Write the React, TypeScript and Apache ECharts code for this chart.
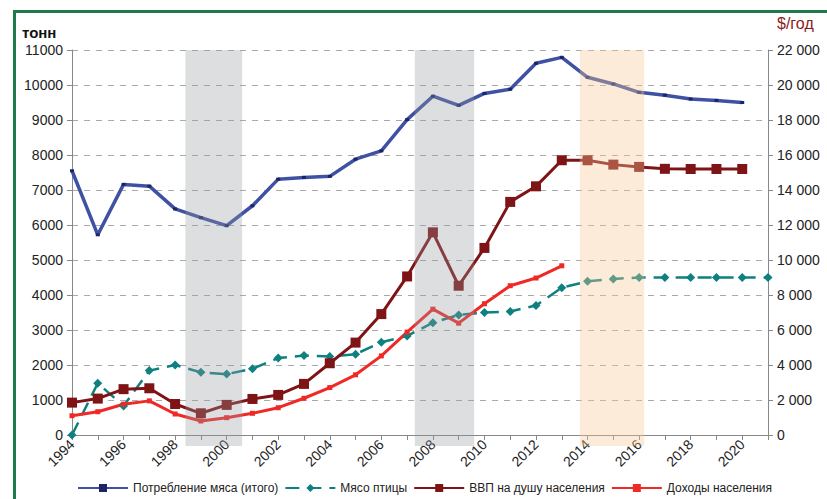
import React, { useEffect, useRef } from 'react';
import * as echarts from 'echarts';

const years = [1994, 1995, 1996, 1997, 1998, 1999, 2000, 2001, 2002, 2003, 2004, 2005, 2006, 2007, 2008, 2009, 2010, 2011, 2012, 2013, 2014, 2015, 2016, 2017, 2018, 2019, 2020, 2021];
const meatTotal = [7550, 5720, 7160, 7110, 6460, 6210, 5980, 6550, 7310, 7360, 7390, 7880, 8120, 9010, 9680, 9420, 9760, 9880, 10620, 10790, 10220, 10030, 9790, 9710, 9600, 9560, 9500, null];
const poultry = [0, 1480, 830, 1840, 2000, 1790, 1740, 1890, 2200, 2270, 2240, 2310, 2650, 2830, 3210, 3430, 3500, 3530, 3700, 4210, 4390, 4460, 4500, 4500, 4500, 4500, 4500, 4500];
const gdpPerCapita = [1850, 2080, 2620, 2670, 1770, 1240, 1720, 2060, 2290, 2920, 4100, 5280, 6910, 9060, 11580, 8530, 10690, 13320, 14210, 15700, 15700, 15450, 15320, 15210, 15200, 15200, 15200, null];
const income = [1100, 1330, 1760, 1950, 1200, 800, 990, 1240, 1560, 2100, 2710, 3440, 4520, 5880, 7190, 6390, 7500, 8530, 8970, 9670, null, null, null, null, null, null, null, null];
const bandStart = [1998.4, 2007.3, 2013.7];
const bandEnd = [2000.6, 2009.6, 2016.2];
const bandColors = ['rgba(150,152,160,0.32)', 'rgba(150,152,160,0.32)', 'rgba(248,200,150,0.36)'];
const seriesNames = ['Потребление мяса (итого)', 'Мясо птицы', 'ВВП на душу населения', 'Доходы населения'];

const FONT = '"Liberation Sans", Arial, sans-serif';

const pair = (arr: (number | null)[]) => years.map((y, i) => [y, arr[i]]);

export default function App() {
  const ref = useRef<HTMLDivElement>(null);
  useEffect(() => {
    if (!ref.current) return;
    const chart = echarts.init(ref.current, null, { renderer: 'svg' });
    const fmtSpace = (v: number) =>
      v >= 1000 ? Math.floor(v / 1000) + ' ' + String(v % 1000).padStart(3, '0') : String(v);
    chart.setOption({
      animation: false,
      backgroundColor: '#fff',
      textStyle: { fontFamily: FONT },
      grid: { left: 72, right: 59, top: 50, bottom: 64, containLabel: false },
      graphic: [
        {
          type: 'rect',
          silent: true,
          shape: { x: 14.5, y: 11.5, width: 900, height: 600 },
          style: { fill: 'none', stroke: '#1d7b4b', lineWidth: 3 },
        },
        {
          type: 'text',
          left: 22,
          top: 25,
          style: { text: 'тонн', font: 'bold 15px ' + FONT, fill: '#111' },
        },
        {
          type: 'text',
          left: 777,
          top: 15,
          style: { text: '$/год', font: '16px ' + FONT, fill: '#8b1c1c' },
        },
      ],
      legend: {
        data: seriesNames,
        bottom: 0,
        left: 72,
        itemWidth: 50,
        itemHeight: 10,
        itemGap: 6,
        textStyle: { fontSize: 12, color: '#222', fontFamily: FONT },
      },
      xAxis: {
        type: 'value',
        min: 1994,
        max: 2021,
        interval: 1,
        axisLine: { show: true, lineStyle: { color: '#888' } },
        axisTick: { show: true, length: 5, lineStyle: { color: '#888' } },
        splitLine: { show: false },
        axisLabel: {
          rotate: 45,
          fontSize: 14,
          color: '#222',
          margin: 7,
          formatter: (v: number) => (v % 2 === 0 && v <= 2020 ? String(v) : ''),
        },
      },
      yAxis: [
        {
          type: 'value',
          min: 0,
          max: 11000,
          interval: 1000,
          axisLine: { show: true, lineStyle: { color: '#888' } },
          axisTick: { show: true, length: 5, lineStyle: { color: '#888' } },
          splitLine: { show: true, lineStyle: { color: '#aaa', type: [6, 6], width: 1 } },
          axisLabel: { fontSize: 14, color: '#222', margin: 9, formatter: (v: number) => String(v) },
        },
        {
          type: 'value',
          min: 0,
          max: 22000,
          interval: 2000,
          position: 'right',
          axisLine: { show: true, lineStyle: { color: '#888' } },
          axisTick: { show: true, length: 5, lineStyle: { color: '#888' } },
          splitLine: { show: false },
          axisLabel: { fontSize: 14, color: '#222', margin: 9, formatter: fmtSpace },
        },
      ],
      series: [
        {
          name: seriesNames[0],
          type: 'line',
          yAxisIndex: 0,
          data: pair(meatTotal),
          symbol: 'rect',
          symbolSize: [4, 3],
          itemStyle: { color: '#1c2466' },
          lineStyle: { color: '#3f51a3', width: 3.5 },
          color: '#3f51a3',
        },
        {
          name: seriesNames[1],
          type: 'line',
          yAxisIndex: 0,
          data: pair(poultry),
          symbol: 'diamond',
          symbolSize: 9,
          itemStyle: { color: '#0f8080' },
          lineStyle: { color: '#0f8080', width: 2.5, type: [14, 8] },
          color: '#0f8080',
        },
        {
          name: seriesNames[2],
          type: 'line',
          yAxisIndex: 1,
          data: pair(gdpPerCapita),
          symbol: 'rect',
          symbolSize: 10,
          itemStyle: { color: '#7f1416' },
          lineStyle: { color: '#7f1416', width: 3 },
          color: '#7f1416',
        },
        {
          name: seriesNames[3],
          type: 'line',
          yAxisIndex: 1,
          data: pair(income),
          symbol: 'rect',
          symbolSize: 5,
          itemStyle: { color: '#ef2a26' },
          lineStyle: { color: '#ef2a26', width: 3 },
          color: '#ef2a26',
        },
        {
          name: 'bands',
          type: 'custom',
          yAxisIndex: 0,
          z: 5,
          clip: false,
          silent: true,
          encode: { x: [0, 1], y: [2, 3] },
          data: bandStart.map((s, i) => [s, bandEnd[i], 0, 11000, i]),
          renderItem: (params: any, api: any) => {
            const p0 = api.coord([api.value(0), 11000]);
            const p1 = api.coord([api.value(1), 0]);
            return {
              type: 'rect',
              shape: { x: p0[0], y: p0[1], width: p1[0] - p0[0], height: p1[1] - p0[1] + 11 },
              style: { fill: bandColors[api.value(4)] },
            };
          },
        },
      ],
    });
    return () => chart.dispose();
  }, []);
  return (
    <div
      ref={ref}
      style={{ position: 'fixed', left: 0, top: 0, width: 827, height: 499 }}
    />
  );
}
